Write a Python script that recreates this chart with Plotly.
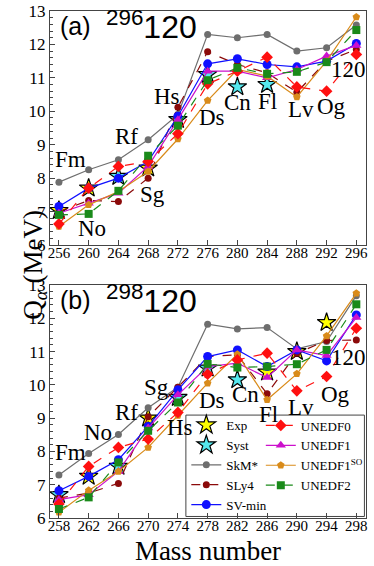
import plotly.graph_objects as go

# ---- panel (a): 296120 chain ----
mass_a = [256, 260, 264, 268, 272, 276, 280, 284, 288, 292, 296]
skm_a = [7.88, 8.25, 8.55, 9.15, 9.9, 12.3, 12.2, 12.3, 11.8, 11.9, 12.58]
sly4_a = [7.0, 7.33, 7.3, 8.0, 10.12, 11.78, 11.4, 11.15, 10.57, 11.5, 11.85]
svmin_a = [7.15, 7.7, 8.0, 8.5, 9.85, 11.42, 11.57, 11.4, 11.33, 11.5, 12.03]
unedf0_a = [6.63, 7.7, 8.35, 8.5, 9.33, 10.82, 11.2, 11.62, 10.73, 10.6, 11.7]
unedf1_a = [6.95, 7.25, 7.55, 8.35, 9.75, 11.2, 11.2, 11.0, 11.25, 11.65, 11.97]
unedf1so_a = [6.55, 7.2, 7.6, 8.2, 9.17, 10.32, 11.25, 11.05, 10.43, 11.5, 12.82]
unedf2_a = [6.9, 6.93, 7.62, 8.67, 9.57, 10.93, 11.3, 11.12, 11.18, 11.47, 12.43]
exp_a_x = [256, 260, 268]
exp_a_y = [7.03, 7.7, 8.3]
syst_a_x = [264, 272, 276, 280, 284]
syst_a_y = [8.05, 9.75, 11.1, 10.73, 10.8]

# ---- panel (b): 298120 chain ----
mass_b = [258, 262, 266, 270, 274, 278, 282, 286, 290, 294, 298]
skm_b = [7.29, 7.94, 8.51, 9.31, 9.93, 11.82, 11.68, 11.72, 11.08, 11.3, 12.68]
sly4_b = [6.6, 6.75, 7.04, 9.04, 9.93, 10.85, 10.9, 9.73, 10.95, 11.33, 11.35]
svmin_b = [6.82, 7.25, 7.75, 8.75, 9.85, 10.85, 11.05, 10.55, 11.05, 10.72, 12.1]
unedf0_b = [6.42, 7.55, 8.12, 8.37, 9.17, 10.32, 10.75, 10.95, 9.82, 10.25, 11.7]
unedf1_b = [6.55, 6.7, 7.4, 8.7, 9.7, 10.55, 10.65, 10.22, 11.05, 10.88, 12.02]
unedf1so_b = [6.17, 6.83, 7.4, 8.12, 9.08, 10.05, 10.92, 9.55, 10.33, 11.47, 12.75]
unedf2_b = [6.27, 6.62, 7.67, 8.62, 9.47, 10.63, 10.52, 10.55, 10.62, 11.05, 12.42]
exp_b_x = [262, 270, 286, 290, 294]
exp_b_y = [7.25, 9.0, 10.38, 11.0, 11.87]
syst_b_x = [258, 266, 274, 278, 282]
syst_b_y = [6.7, 7.55, 9.62, 10.5, 10.15]

# element labels (position in data coords)
elem_names = ["Fm", "No", "Rf", "Sg", "Hs", "Ds", "Cn", "Fl", "Lv", "Og", "120"]
lab_a_x = [257.5, 260.5, 265.1, 268.6, 270.6, 276.6, 280.0, 284.0, 288.5, 292.7, 294.9]
lab_a_y = [8.57, 6.5, 9.26, 7.5, 10.43, 9.8, 10.25, 10.3, 10.04, 10.13, 11.24]
lab_b_x = [259.5, 263.2, 267.1, 271.1, 274.3, 278.6, 283.1, 286.2, 290.5, 295.2, 296.9]
lab_b_y = [7.98, 8.58, 9.16, 9.93, 8.72, 9.54, 9.7, 9.1, 9.33, 9.7, 10.83]

SERIF = "Liberation Serif"
SANS = "Liberation Sans"

models = [
    # name, key, color, dash, symbol, size, legend
    ("SkM*", "skm", "#6e6e6e", "solid", "circle", 7, "legend"),
    ("SLy4", "sly4", "#8b0a0a", "dash", "circle", 7, "legend"),
    ("SV-min", "svmin", "#1010ff", "solid", "circle", 9, "legend"),
    ("UNEDF1", "unedf1", "#cc10cc", "solid", "triangle-up", 9, "legend2"),
    ("UNEDF1<sup>SO</sup>", "unedf1so", "#d98b1a", "solid", "pentagon", 8, "legend2"),
    ("UNEDF0", "unedf0", "#ff1010", "dash", "diamond", 9, "legend2"),
    ("UNEDF2", "unedf2", "#1a8a1a", "dash", "square", 8, "legend2"),
]
legend_rank = {"SkM*": 3, "SLy4": 4, "SV-min": 5, "UNEDF0": 6, "UNEDF1": 7,
               "UNEDF1<sup>SO</sup>": 8, "UNEDF2": 9}

data = {
    "a": dict(mass=mass_a, skm=skm_a, sly4=sly4_a, svmin=svmin_a, unedf0=unedf0_a,
              unedf1=unedf1_a, unedf1so=unedf1so_a, unedf2=unedf2_a,
              exp=(exp_a_x, exp_a_y), syst=(syst_a_x, syst_a_y)),
    "b": dict(mass=mass_b, skm=skm_b, sly4=sly4_b, svmin=svmin_b, unedf0=unedf0_b,
              unedf1=unedf1_b, unedf1so=unedf1so_b, unedf2=unedf2_b,
              exp=(exp_b_x, exp_b_y), syst=(syst_b_x, syst_b_y)),
}

fig = go.Figure()

for panel, xa, ya in [("a", "x", "y"), ("b", "x2", "y2")]:
    d = data[panel]
    show = panel == "b"
    # stars go underneath
    fig.add_trace(go.Scatter(
        x=d["exp"][0], y=d["exp"][1], mode="markers", name="Exp",
        marker=dict(symbol="star", size=14, color="#ffff00",
                    line=dict(color="black", width=1.2)),
        xaxis=xa, yaxis=ya, showlegend=show, legend="legend", legendrank=1))
    fig.add_trace(go.Scatter(
        x=d["syst"][0], y=d["syst"][1], mode="markers", name="Syst",
        marker=dict(symbol="star", size=14, color="#55e8ee",
                    line=dict(color="black", width=1.2)),
        xaxis=xa, yaxis=ya, showlegend=show, legend="legend", legendrank=2))
    for name, key, color, dash, sym, size, leg in models:
        fig.add_trace(go.Scatter(
            x=d["mass"], y=d[key], mode="lines+markers", name=name,
            line=dict(color=color, width=1.2, dash=dash),
            marker=dict(symbol=sym, size=size, color=color),
            xaxis=xa, yaxis=ya, showlegend=show, legend=leg,
            legendrank=legend_rank[name]))

annotations = []
for names, xs, ys, xr, yr in [(elem_names, lab_a_x, lab_a_y, "x", "y"),
                              (elem_names, lab_b_x, lab_b_y, "x2", "y2")]:
    for n, xv, yv in zip(names, xs, ys):
        annotations.append(dict(x=xv, y=yv, xref=xr, yref=yr, text=n,
                                showarrow=False, font=dict(family=SERIF, size=23, color="black")))

for tag, iso, xr, yr in [("(a)", "296", "x domain", "y domain"),
                         ("(b)", "298", "x2 domain", "y2 domain")]:
    annotations.append(dict(x=0.025, y=1.005, xref=xr, yref=yr, xanchor="left", yanchor="top",
                            text=tag, showarrow=False,
                            font=dict(family=SANS, size=25, color="black")))
    annotations.append(dict(x=0.17, y=1.035, xref=xr, yref=yr, xanchor="left", yanchor="top",
                            text="<sup>" + iso + "</sup>120", showarrow=False,
                            font=dict(family=SANS, size=32, color="black")))

annotations.append(dict(x=-0.11, y=0.5, xref="paper", yref="paper", textangle=-90,
                        text="Q<sub><i>α</i></sub> (MeV)", showarrow=False,
                        font=dict(family=SERIF, size=27, color="black")))

axis_common = dict(showline=True, linecolor="#444", linewidth=1, mirror=True,
                   ticks="inside", ticklen=5, tickcolor="#444", showgrid=False,
                   zeroline=False, automargin=False)
minor_y = dict(dtick=0.2, ticks="inside", ticklen=3, tickcolor="#444")

leg_font = dict(family=SERIF, size=13)

fig.update_layout(
    width=374, height=566,
    margin=dict(l=50, r=7, t=11, b=48),
    paper_bgcolor="white", plot_bgcolor="white",
    font=dict(family=SERIF, color="black"),
    annotations=annotations,
    shapes=[dict(type="rect", xref="paper", yref="paper", x0=0.43, x1=0.995,
                 y0=0.003, y1=0.203, line=dict(color="#444", width=1))],
    xaxis=dict(axis_common, domain=[0, 1], range=[254.8, 297.3], tickvals=mass_a,
               tickfont=dict(size=15), ticklabelstandoff=-6, anchor="y"),
    yaxis=dict(axis_common, domain=[0.5385, 1.0], range=[6, 13], dtick=1,
               tickfont=dict(size=17), minor=minor_y, anchor="x"),
    xaxis2=dict(axis_common, domain=[0, 1], range=[256.8, 299.3], tickvals=mass_b,
                tickfont=dict(size=15), ticklabelstandoff=-6, anchor="y2",
                title=dict(text="Mass number", font=dict(size=27))),
    yaxis2=dict(axis_common, domain=[0, 0.4596], range=[6, 13], dtick=1,
                tickfont=dict(size=17), minor=minor_y, anchor="x2"),
    legend=dict(x=0.43, y=-0.004, xanchor="left", yanchor="bottom",
                bgcolor="rgba(0,0,0,0)", borderwidth=0,
                font=leg_font, itemwidth=30, tracegroupgap=0),
    legend2=dict(x=0.665, y=0.212, xanchor="left", yanchor="top",
                 bgcolor="rgba(0,0,0,0)", borderwidth=0,
                 font=leg_font, itemwidth=30, tracegroupgap=0),
    showlegend=True,
)

fig.write_html("out.html", config={"displayModeBar": False},
               post_script="document.body.style.margin='0px';")
